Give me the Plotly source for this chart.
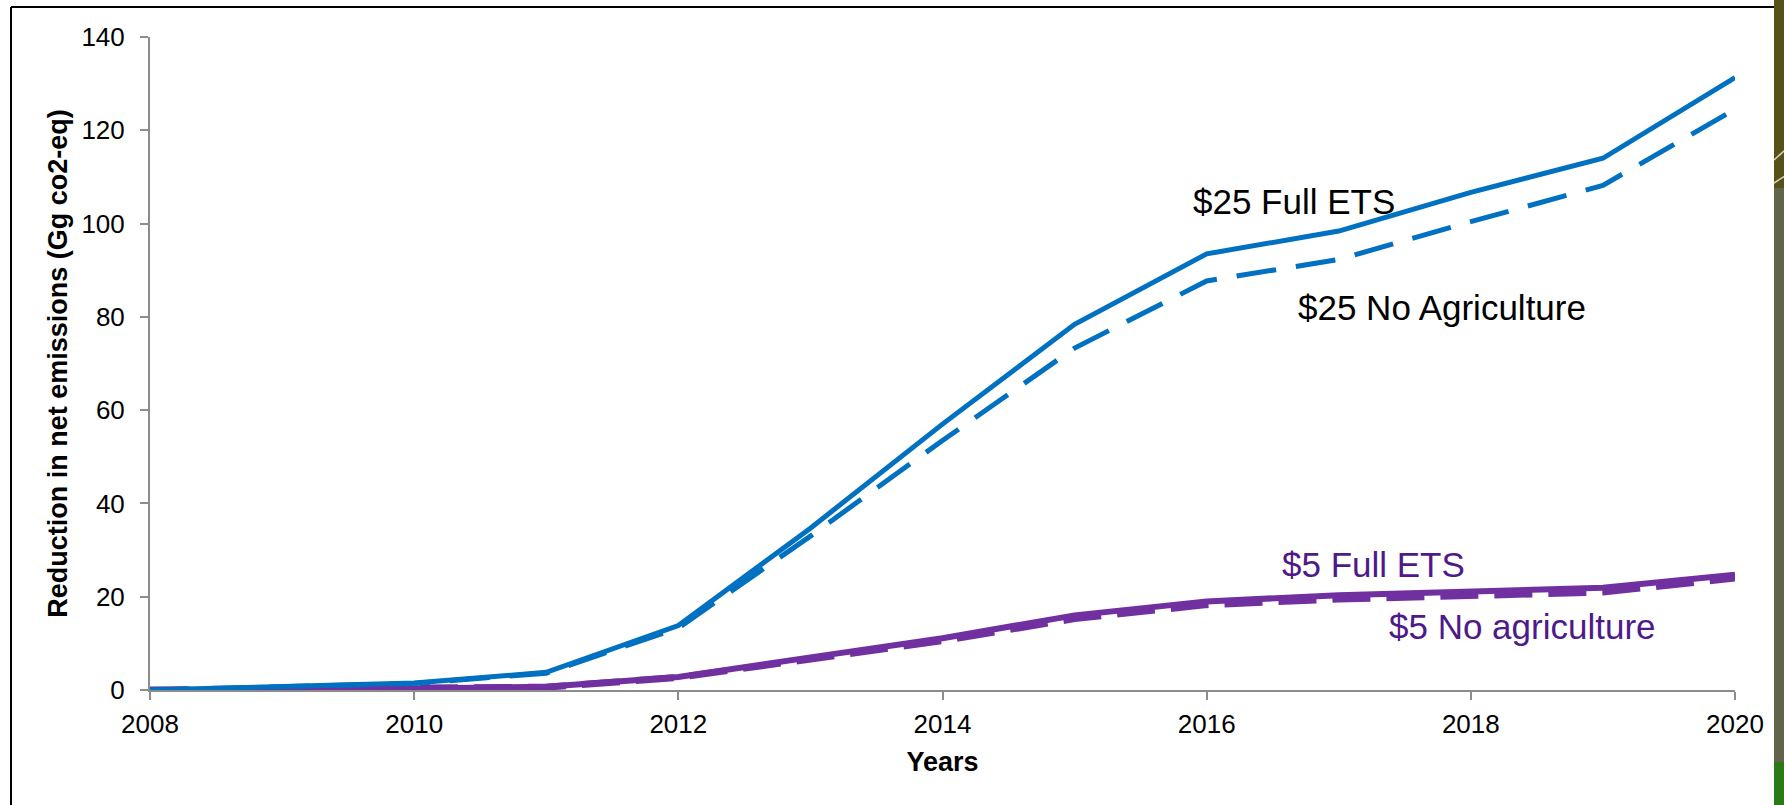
import plotly.graph_objects as go

years = list(range(2008, 2021))
full_25 = [0, 0.7, 1.5, 3.8, 13.8, 34.7, 57.0, 78.4, 93.5, 98.4, 106.7, 114.0, 131.3]
noag_25 = [0, 0.6, 1.4, 3.6, 13.3, 33.0, 53.5, 73.3, 87.7, 92.3, 100.4, 108.2, 124.5]
full_5 = [0, 0.1, 0.3, 0.7, 2.8, 7.0, 11.1, 16.0, 19.0, 20.3, 21.2, 21.9, 24.7]
noag_5 = [0, 0.1, 0.3, 0.6, 2.7, 6.7, 10.6, 15.3, 18.3, 19.5, 20.3, 21.0, 24.0]

labels = ["$25 Full ETS", "$25 No Agriculture", "$5 Full ETS", "$5 No agriculture"]
label_x = [2016.66, 2017.78, 2017.26, 2018.39]
label_y = [104.8, 82.1, 27.0, 13.7]
x_ticks = [2008, 2010, 2012, 2014, 2016, 2018, 2020]
y_ticks = [0, 20, 40, 60, 80, 100, 120, 140]

BLUE = "#0070C0"
PURPLE = "#7030A0"
PURPLE_TXT = "#4E1A8A"
FONT = "Liberation Sans, Arial, sans-serif"

fig = go.Figure()
fig.add_trace(go.Scatter(x=years, y=noag_5, mode="lines",
                         line=dict(color=PURPLE, width=7, dash="38px,16px")))
fig.add_trace(go.Scatter(x=years, y=full_5, mode="lines",
                         line=dict(color=PURPLE, width=6)))
fig.add_trace(go.Scatter(x=years, y=noag_25, mode="lines",
                         line=dict(color=BLUE, width=5, dash="40px,20px")))
fig.add_trace(go.Scatter(x=years, y=full_25, mode="lines",
                         line=dict(color=BLUE, width=5)))

colors = ["black", "black", PURPLE_TXT, PURPLE_TXT]
for t, x, y, c in zip(labels, label_x, label_y, colors):
    fig.add_annotation(x=x, y=y, text=t, showarrow=False,
                       font=dict(family=FONT, size=35, color=c))

L, R, T, B = 150, 1735, 37, 690
W, H = R - L, B - T


def px(x):
    return (x - L) / W


def py(y):
    return (B - y) / H


shapes = [
    # frame
    dict(type="line", xref="paper", yref="paper", x0=px(11), x1=px(1775), y0=py(7), y1=py(7),
         line=dict(color="black", width=2)),
    dict(type="line", xref="paper", yref="paper", x0=px(11), x1=px(11), y0=py(7), y1=py(806),
         line=dict(color="black", width=2)),
    # right decorative strip
    dict(type="rect", xref="paper", yref="paper", x0=px(1774), x1=px(1785), y0=py(0), y1=py(188),
         fillcolor="#565019", line=dict(width=0)),
    dict(type="rect", xref="paper", yref="paper", x0=px(1774), x1=px(1785), y0=py(188), y1=py(762),
         fillcolor="#62634B", line=dict(width=0)),
    dict(type="rect", xref="paper", yref="paper", x0=px(1774), x1=px(1785), y0=py(762), y1=py(806),
         fillcolor="#2A7A16", line=dict(width=0)),
    dict(type="line", xref="paper", yref="paper", x0=px(1774), x1=px(1785), y0=py(160), y1=py(150),
         line=dict(color="#D8D4B8", width=1.5)),
    dict(type="line", xref="paper", yref="paper", x0=px(1774), x1=px(1785), y0=py(183), y1=py(176),
         line=dict(color="#D8D4B8", width=1.5)),
]

fig.update_layout(
    width=1784, height=805,
    margin=dict(l=L, r=1784 - R, t=T, b=805 - B),
    paper_bgcolor="white", plot_bgcolor="white",
    showlegend=False,
    font=dict(family=FONT, size=26, color="black"),
    shapes=shapes,
    xaxis=dict(range=[2008, 2020], tickvals=x_ticks, showgrid=False, zeroline=False,
               showline=True, linecolor="#8C8C8C", linewidth=2,
               ticks="outside", ticklen=8, tickcolor="#8C8C8C", tickwidth=2,
               tickfont=dict(size=26), ticklabelstandoff=2,
               title=dict(text="<b>Years</b>", font=dict(size=27), standoff=14)),
    yaxis=dict(range=[0, 140], tickvals=y_ticks, showgrid=False, zeroline=False,
               showline=True, linecolor="#8C8C8C", linewidth=2,
               ticks="outside", ticklen=8, tickcolor="#8C8C8C", tickwidth=2,
               tickfont=dict(size=26), ticklabelstandoff=10,
               title=dict(text="<b>Reduction in net emissions (Gg co2-eq)</b>",
                          font=dict(size=27), standoff=6)),
)

fig.write_html("out.html", config={"displayModeBar": False},
               post_script="document.body.style.margin='0px';")
